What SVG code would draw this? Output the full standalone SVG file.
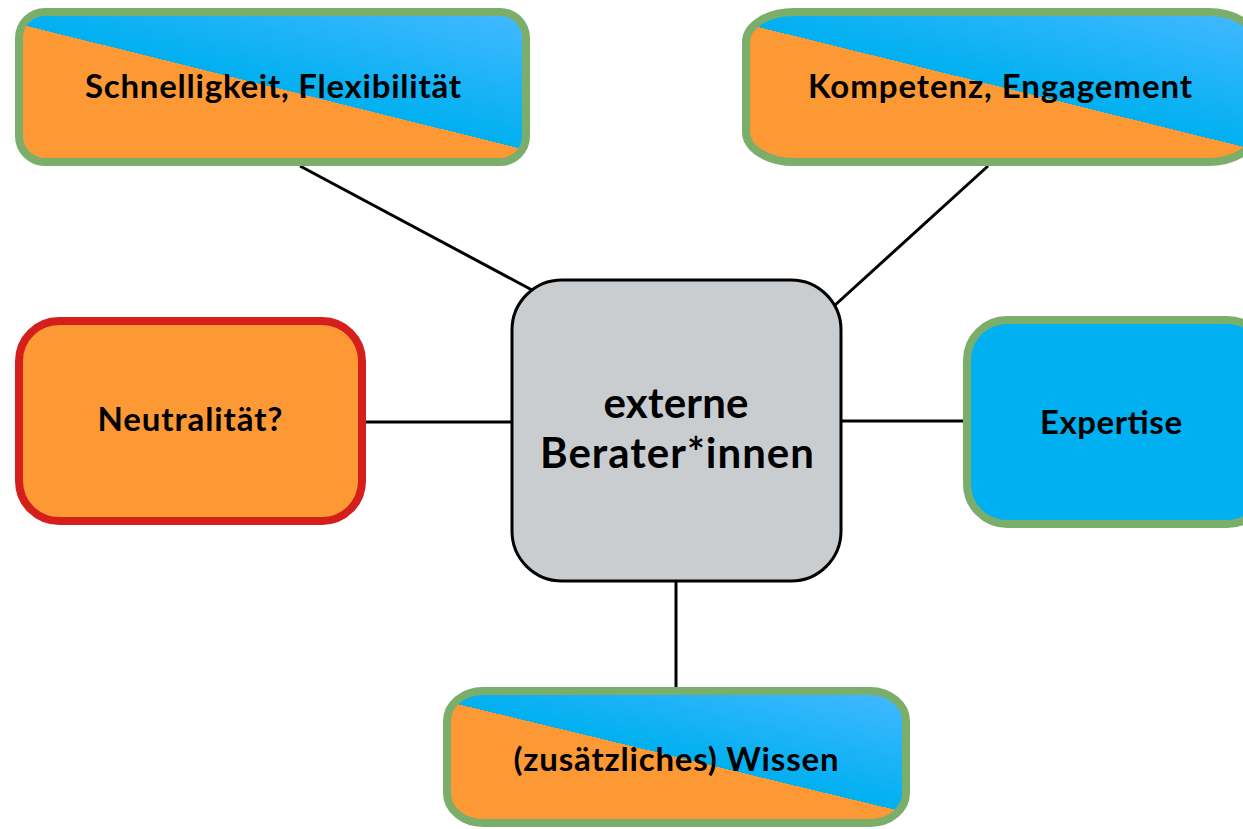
<svg xmlns="http://www.w3.org/2000/svg" width="1243" height="829" viewBox="0 0 1243 829">
<style>
.lbl{font-family:Lato,"Liberation Sans",sans-serif;font-weight:bold;fill:#000;text-anchor:middle;font-size:33px}
.big{font-size:42px}
.split{fill:url(#split);stroke:#7aae6a;stroke-width:8}
.conn{stroke:#000;stroke-width:3;fill:none}
</style>
<defs>
<linearGradient id="split" x1="0.08" y1="1" x2="0.92" y2="0">
<stop offset="0" stop-color="#fd9934"/>
<stop offset="0.5" stop-color="#fd9934"/>
<stop offset="0.5" stop-color="#00b0f0"/>
<stop offset="1" stop-color="#40b8ff"/>
</linearGradient>
</defs>
<g id="connectors">
<line class="conn" x1="300" y1="166" x2="532" y2="290"/>
<line class="conn" x1="988" y1="166" x2="834" y2="306"/>
<line class="conn" x1="366" y1="422" x2="511" y2="422"/>
<line class="conn" x1="842" y1="421" x2="963" y2="421"/>
<line class="conn" x1="676" y1="582" x2="676" y2="688"/>
</g>
<g id="node-center">
<rect x="512" y="280" width="329" height="301" rx="50" ry="50" fill="#cacdd0" stroke="#000" stroke-width="3"/>
<text class="lbl big" x="676" y="418" textLength="145" lengthAdjust="spacing">externe</text>
<text class="lbl big" x="677" y="468" textLength="274" lengthAdjust="spacing">Berater*innen</text>
</g>
<g id="node-schnelligkeit">
<rect class="split" x="19" y="12" width="507" height="150" rx="26" ry="26"/>
<text class="lbl" x="273" y="98" textLength="376" lengthAdjust="spacing">Schnelligkeit, Flexibilität</text>
</g>
<g id="node-kompetenz">
<rect class="split" x="746" y="12" width="510" height="150" rx="48" ry="30"/>
<text class="lbl" x="1000" y="98" textLength="384" lengthAdjust="spacing">Kompetenz, Engagement</text>
</g>
<g id="node-neutralitaet">
<rect x="19" y="321" width="343" height="200" rx="40" ry="40" fill="#fd9934" stroke="#d41f1c" stroke-width="8"/>
<text class="lbl" x="190" y="431" textLength="185" lengthAdjust="spacing">Neutralität?</text>
</g>
<g id="node-expertise">
<rect x="967" y="320" width="300" height="204" rx="40" ry="40" fill="#00b0f0" stroke="#7aae6a" stroke-width="8"/>
<text class="lbl" x="1111" y="434" textLength="142" lengthAdjust="spacing">Expertise</text>
</g>
<g id="node-wissen">
<rect class="split" x="447" y="691" width="459" height="132" rx="36" ry="30"/>
<text class="lbl" x="676" y="771" textLength="325" lengthAdjust="spacing">(zusätzliches) Wissen</text>
</g>
</svg>
